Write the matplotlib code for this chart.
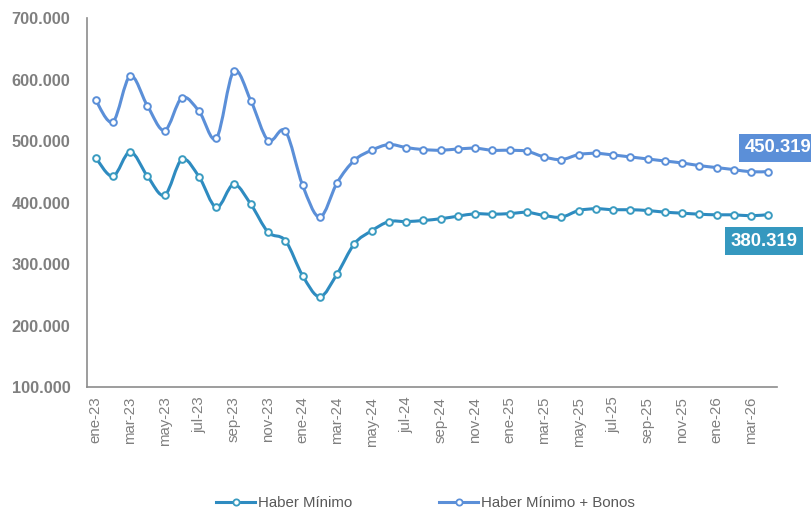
import numpy as np
import matplotlib.pyplot as plt
from matplotlib.path import Path
from matplotlib.patches import PathPatch
from matplotlib.lines import Line2D

plt.rcParams['font.family'] = ['Liberation Sans', 'DejaVu Sans']

meses = ['ene', 'feb', 'mar', 'abr', 'may', 'jun', 'jul', 'ago', 'sep', 'oct', 'nov', 'dic']
fechas = [f'{m}-{a}' for a in ['23', '24', '25', '26'] for m in meses][:40]

# haber minimo (ene-23 .. abr-26)
haber_min = [473000, 442600, 482500, 443000, 412000, 470000, 441500, 392000, 429500, 397000,
             351700, 338000, 281000, 246800, 284000, 333000, 354000, 369000, 369000, 370800,
             373600, 377800, 381700, 381000, 382000, 384000, 379000, 376200, 387000, 389900,
             388300, 388300, 387000, 384300, 382700, 381000, 380000, 380000, 378500, 380319]

# haber minimo + bonos
haber_bonos = [566600, 531200, 605700, 557300, 517100, 570300, 548100, 504600, 613400, 565400,
               500800, 516000, 427900, 376200, 432300, 468700, 485000, 494300, 489400, 486100,
               485000, 487100, 488300, 485000, 485000, 483400, 474100, 469800, 478000, 480000,
               477300, 474100, 470800, 467500, 464300, 460000, 456800, 453500, 450000, 450319]

c_min = '#2E8BC0'
c_min_mk = '#3A9BC0'
c_bon = '#5B8FD8'


def curva_suave(ax, x, y, color):
    # bezier tipo excel (catmull-rom)
    x = np.asarray(x, float)
    y = np.asarray(y, float)
    n = len(x)
    verts = [(x[0], y[0])]
    codes = [Path.MOVETO]
    for i in range(n - 1):
        i0 = max(i - 1, 0)
        i3 = min(i + 2, n - 1)
        c1 = (x[i] + (x[i + 1] - x[i0]) / 6, y[i] + (y[i + 1] - y[i0]) / 6)
        c2 = (x[i + 1] - (x[i3] - x[i]) / 6, y[i + 1] - (y[i3] - y[i]) / 6)
        verts += [c1, c2, (x[i + 1], y[i + 1])]
        codes += [Path.CURVE4] * 3
    ax.add_patch(PathPatch(Path(verts, codes), fill=False, edgecolor=color,
                           lw=2.2, capstyle='round', joinstyle='round', zorder=2))


fig = plt.figure(figsize=(8.11, 5.12), dpi=100)
ax = fig.add_axes([0.1073, 0.2441, 0.8508, 0.7207])

x = np.arange(len(fechas))
curva_suave(ax, x, haber_min, c_min)
curva_suave(ax, x, haber_bonos, c_bon)
ax.plot(x, haber_min, 'o', ms=4.8, mfc='white', mec=c_min_mk, mew=1.4, zorder=3)
ax.plot(x, haber_bonos, 'o', ms=4.8, mfc='white', mec=c_bon, mew=1.4, zorder=3)

ax.set_xlim(-0.5, len(fechas) - 0.5)
ax.set_ylim(100000, 700000)
ax.set_yticks(np.arange(100000, 700001, 100000))
ax.set_yticklabels([f'{v:,.0f}'.replace(',', '.') for v in np.arange(100000, 700001, 100000)],
                   fontsize=11.8, fontweight='bold', color='#7F7F7F')
ax.set_xticks(x[::2])
ax.set_xticklabels(fechas[::2], rotation=90, fontsize=10.8, color='#7F7F7F')
ax.tick_params(axis='y', length=0, pad=12)
ax.tick_params(axis='x', length=0, pad=7)

for s in ['top', 'right']:
    ax.spines[s].set_visible(False)
for s in ['left', 'bottom']:
    ax.spines[s].set_color('#8C8C8C')
    ax.spines[s].set_linewidth(1.2)

ax.annotate(f'{haber_bonos[-1]:,.0f}'.replace(',', '.'), (x[-1], haber_bonos[-1]),
            xytext=(7, 17), textcoords='offset points', ha='center', va='center',
            fontsize=13.3, fontweight='bold', color='white', annotation_clip=False,
            bbox=dict(boxstyle='square,pad=0.3', fc=c_bon, ec='none'), zorder=5)
ax.annotate(f'{haber_min[-1]:,.0f}'.replace(',', '.'), (x[-1], haber_min[-1]),
            xytext=(-3, -19), textcoords='offset points', ha='center', va='center',
            fontsize=13.3, fontweight='bold', color='white', annotation_clip=False,
            bbox=dict(boxstyle='square,pad=0.3', fc='#3598BF', ec='none'), zorder=5)

h1 = Line2D([], [], color=c_min, lw=2.2, marker='o', ms=4.5, mfc='white', mec=c_min_mk, mew=1.3)
h2 = Line2D([], [], color=c_bon, lw=2.2, marker='o', ms=4.5, mfc='white', mec=c_bon, mew=1.3)
fig.legend([h1, h2], ['Haber Mínimo', 'Haber Mínimo + Bonos'], loc='center',
           bbox_to_anchor=(0.525, 0.018), ncol=2, frameon=False, fontsize=10.8,
           labelcolor='#595959', columnspacing=5.8, handlelength=2.6, handletextpad=0.2)

fig.savefig('out.png', dpi=100)
